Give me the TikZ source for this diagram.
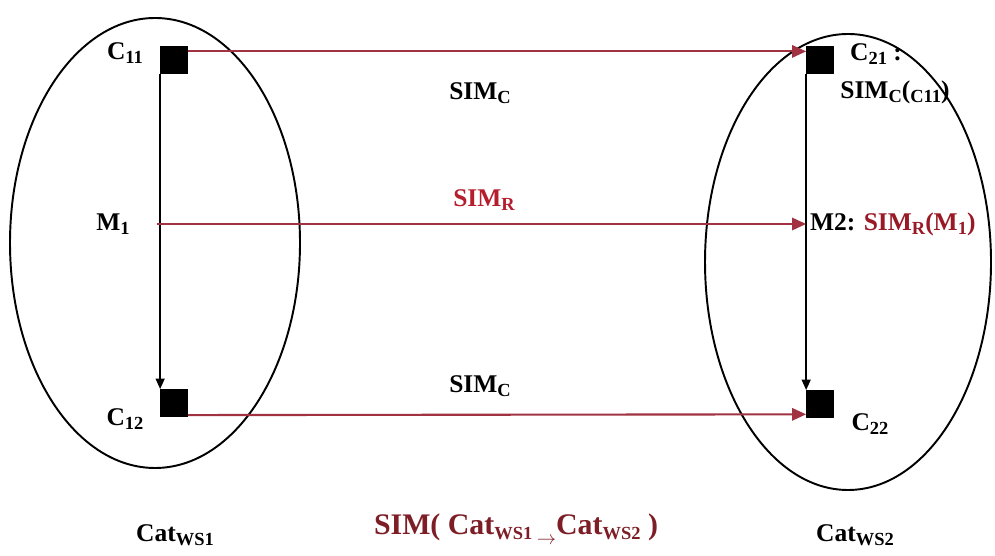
\documentclass[tikz,border=0pt]{standalone}
\usepackage{fontspec}
\setmainfont{Liberation Serif}
\usetikzlibrary{arrows.meta}
\definecolor{arrowred}{RGB}{160,50,65}
\definecolor{simred}{RGB}{180,30,45}
\definecolor{darkred}{RGB}{125,30,38}
\newcommand{\lo}[1]{\raisebox{-0.35ex}{\fontsize{10.5}{11}\selectfont #1}}
\tikzset{
  sq/.style={draw,fill=black,minimum size=0.54cm,inner sep=0pt},
  lab/.style={font=\fontsize{14.5}{15}\selectfont\bfseries,inner sep=1pt},
  redarrow/.style={arrowred,line width=1.2pt,-{Triangle[length=8pt,width=7pt]}},
  blackarrow/.style={black,line width=1.1pt,-{Triangle[length=6pt,width=5pt]}}
}
\begin{document}
\begin{tikzpicture}
\useasboundingbox (0,0) rectangle (19.9,11.12);
\draw[line width=1.1pt] (3.1,6.26) ellipse [x radius=2.9,y radius=4.5];
\draw[line width=1.1pt] (16.96,5.88) ellipse [x radius=2.86,y radius=4.56];

\node[sq] (c11) at (3.48,9.92) {};
\node[sq] (c12) at (3.48,3.06) {};
\node[sq] (c21) at (16.4,9.92) {};
\node[sq] (c22) at (16.4,3.04) {};

\node[lab] (lc11) at (2.5,10.06) {C\lo{11}};
\node[lab] (lc12) at (2.5,2.74) {C\lo{12}};
\node[lab] (lm1) at (2.26,6.64) {M\lo{1}};
\node[lab] (lc21) at (17.52,10.04) {C\lo{21} :};
\node[lab] (lsc) at (17.9,9.28) {SIM\lo{C}(\lo{C11})};
\node[lab] (lc22) at (17.4,2.64) {C\lo{22}};

\draw[blackarrow] (c11.south west) -- (c12.north west);
\draw[blackarrow] (c21.south west) -- (c22.north west);

\coordinate (r1) at (3.14,6.64);
\coordinate (r2) at (c21.south west |- r1);
\draw[redarrow] ([yshift=-3pt]c11.north east) -- ([yshift=-3pt]c21.north west);
\draw[redarrow] (r1) -- (r2);
\draw[redarrow] ([yshift=1pt]c12.south east) -- ([yshift=2pt]c22.south west);

\node[lab,anchor=west] (lm2) at ([xshift=1pt]r2) {M2: \textcolor{simred!85!black}{SIM\lo{R}(M\lo{1})}};
\node[lab] (simc1) at (9.6,9.26) {SIM\lo{C}};
\node[lab,simred] (simr) at (9.68,7.12) {SIM\lo{R}};
\node[lab] (simc2) at (9.6,3.4) {SIM\lo{C}};

\node[lab] (cat1) at (3.5,0.42) {Cat\lo{WS1}};
\node[lab] (cat2) at (17.1,0.42) {Cat\lo{WS2}};
\node[lab,darkred,font=\fontsize{17}{18}\selectfont\bfseries] (sim) at (10.32,0.54)
  {SIM( Cat\lo{WS1 \raisebox{-0.6ex}{$\rightarrow$}}Cat\lo{WS2} )};
\end{tikzpicture}
\end{document}
